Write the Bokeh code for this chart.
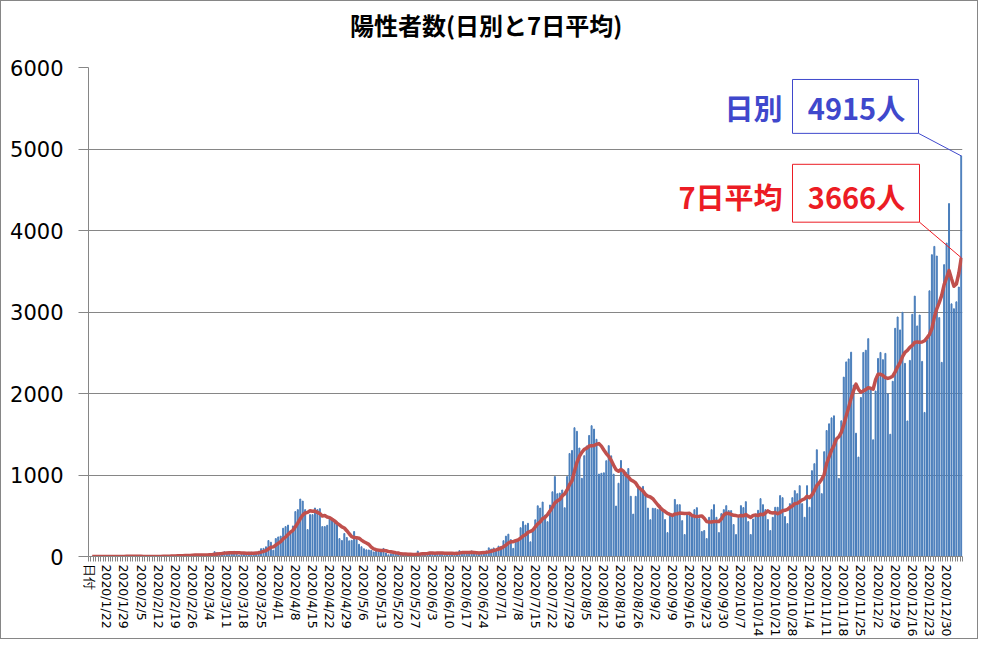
import datetime as dt
import pandas as pd
from bokeh.plotting import figure
from bokeh.layouts import column
from bokeh.models import Range1d, FixedTicker, Label, BoxAnnotation, Arrow, Div, InlineStyleSheet
from bokeh.embed import file_html
from bokeh.resources import INLINE

# ---------------- data ----------------
title_text = "陽性者数(日別と7日平均)"
first_label = "日付"
start_date = dt.date(2020, 1, 16)

jan2020 = [1, 0, 0, 0, 0, 0, 0, 0, 1, 1, 2, 0, 3, 1, 4, 3]  # 1/16 - 1/31
feb2020 = [3, 0, 0, 2, 1, 0, 0, 0, 0, 2, 0, 1, 4, 8, 12, 5, 5, 8, 10, 11,
           11, 14, 23, 12, 14, 22, 25, 21, 14]
mar2020 = [14, 15, 19, 33, 33, 59, 47, 33, 26, 59, 52, 55, 41, 63, 32, 16, 43, 44, 39, 52,
           53, 35, 41, 63, 96, 100, 119, 196, 175, 77, 220]
apr2020 = [240, 250, 347, 367, 385, 282, 375, 551, 575, 705, 680, 575, 330, 514, 514, 595, 575, 587, 367, 367,
           383, 465, 453, 440, 390, 220, 196, 282, 233, 192]
may2020 = [198, 306, 208, 150, 120, 95, 82, 80, 75, 56, 79, 82, 55, 99, 43, 21, 33, 32, 39, 32,
           32, 20, 21, 26, 21, 15, 32, 66, 29, 37, 43]
jun2020 = [35, 51, 40, 45, 48, 44, 47, 14, 38, 38, 41, 43, 48, 72, 53, 38, 39, 41, 68, 39,
           44, 29, 55, 58, 68, 106, 92, 105, 86, 127]
jul2020 = [123, 194, 250, 274, 207, 100, 207, 190, 353, 429, 385, 407, 180, 333, 450, 622, 594, 668, 509, 427,
           632, 794, 981, 770, 779, 816, 598, 981, 1264, 1301, 1580]
aug2020 = [1536, 1331, 959, 1237, 1356, 1485, 1605, 1563, 1438, 1011, 1021, 1027, 1175, 1360, 1235, 1010, 619, 899, 1178, 1029,
           1034, 1079, 739, 520, 738, 850, 836, 860, 781, 594, 451]
sep2020 = [592, 590, 576, 623, 575, 453, 293, 502, 509, 700, 636, 636, 440, 269, 514, 514, 514, 575, 599, 465,
           306, 318, 220, 481, 575, 636, 481, 293, 526, 575]
oct2020 = [624, 563, 563, 392, 269, 481, 624, 600, 673, 428, 269, 459, 518, 567, 710, 636, 575, 453, 318, 481,
           604, 604, 747, 722, 490, 404, 648, 722, 808, 771, 869]
nov2020 = [648, 481, 869, 604, 1053, 1139, 1310, 881, 771, 1286, 1546, 1628, 1701, 1726, 1437, 958, 1665, 2201, 2388, 2424,
           2507, 2103, 1513, 1220, 1951, 2504, 2531, 2673, 2058, 1432]
dec2020 = [2030, 2430, 2504, 2415, 2492, 1996, 1500, 2150, 2800, 2939, 2780, 2996, 2370, 1663, 2406, 2972, 3195, 2829, 2963, 2394,
           1768, 2656, 3260, 3703, 3805, 3687, 2931, 2382, 3581, 3846, 4330]
jan2021 = [3100, 3040, 3125, 3306, 4915]

daily = (jan2020 + feb2020 + mar2020 + apr2020 + may2020 + jun2020 + jul2020 + aug2020
         + sep2020 + oct2020 + nov2020 + dec2020 + jan2021)
n_days = len(daily)
dates = [start_date + dt.timedelta(days=k) for k in range(n_days)]
categories = [first_label] + [f"{d.year}/{d.month}/{d.day}" for d in dates]
x_idx = list(range(1, n_days + 1))
avg7 = pd.Series(daily, dtype=float).rolling(7, min_periods=1).mean().tolist()

y_ticks = [0, 1000, 2000, 3000, 4000, 5000, 6000]
label_step = 7

# ---------------- layout ----------------
W, H = 978, 639
TITLE_H = 52
FL, FT = 88, 67
FW, FH = 874, 490
FR, FB = W - FL - FW, H - FT - FH
XMIN, XMAX = -0.5, len(categories) - 0.5
YMIN, YMAX = 0, 6000


def X(sx):  # page pixel -> data x
    return XMIN + (sx - FL) * (XMAX - XMIN) / FW


def Y(sy):  # page pixel -> data y
    return YMIN + (FT + FH - sy) * (YMAX - YMIN) / FH


GRID = "#868686"
BLUE_BAR = "#4A7EBB"
RED_LINE = "#C0504D"
BLUE_TXT = "#3F48CC"
RED_TXT = "#EC1C24"
JP = "Noto Sans CJK JP"

title_div = Div(
    text=(f'<div style="margin:0;padding:12px 0 0 350px;font-family:\'{JP}\';font-weight:bold;'
          f'font-size:24px;line-height:26px;white-space:nowrap;color:black;">{title_text}</div>'),
    width=W, height=TITLE_H, styles={"background-color": "white", "margin": "0"})

p = figure(width=W, height=H - TITLE_H, output_backend="svg", toolbar_location=None,
           x_range=Range1d(XMIN, XMAX), y_range=Range1d(YMIN, YMAX),
           min_border_left=FL, min_border_right=FR, min_border_top=FT - TITLE_H, min_border_bottom=FB)
p.outline_line_color = None
p.background_fill_color = "white"
p.border_fill_color = "white"

# axes
major = list(range(0, len(categories), label_step))
p.xaxis.ticker = FixedTicker(ticks=major, minor_ticks=[i - 0.5 for i in range(len(categories) + 1)])
p.xaxis.major_label_overrides = {i: categories[i] for i in major}
p.xaxis.major_label_orientation = "vertical"
p.xaxis.major_tick_line_color = None
p.xaxis.major_tick_out = 5
p.xaxis.major_tick_in = 0
p.xaxis.minor_tick_out = 5
p.xaxis.minor_tick_in = 0
p.xaxis.minor_tick_line_color = GRID
p.xaxis.axis_line_color = GRID
p.xaxis.major_label_standoff = 3
p.xaxis.major_label_text_font = "DejaVu Sans"
p.xaxis.major_label_text_font_size = "12.5px"
p.xaxis.major_label_text_color = "black"

p.yaxis.ticker = FixedTicker(ticks=y_ticks)
p.yaxis.axis_line_color = GRID
p.yaxis.major_tick_line_color = GRID
p.yaxis.major_tick_out = 10
p.yaxis.major_tick_in = 0
p.yaxis.minor_tick_line_color = None
p.yaxis.major_label_standoff = 15
p.yaxis.major_label_text_font = "DejaVu Sans"
p.yaxis.major_label_text_font_size = "21px"
p.yaxis.major_label_text_color = "black"

p.xgrid.visible = False
p.ygrid.grid_line_color = GRID
p.ygrid.grid_line_width = 1

# data
p.vbar(x=x_idx, top=daily, width=0.4, color=BLUE_BAR)
p.line(x=x_idx, y=avg7, color=RED_LINE, line_width=3.5, line_join="round")

# annotations
last_x = x_idx[-1]
last_daily = daily[-1]
last_avg = avg7[-1]

p.add_layout(Label(x=X(782), y=Y(107), text="日別", text_align="right", text_baseline="middle",
                   text_font=JP, text_font_style="bold", text_font_size="29px", text_color=BLUE_TXT))
p.add_layout(BoxAnnotation(left=X(792), right=X(918), top=Y(79), bottom=Y(133),
                           fill_color=None, fill_alpha=0, line_color=BLUE_TXT, line_width=1, line_alpha=1))
p.add_layout(Label(x=X(856), y=Y(107), text=f"{last_daily}人", text_align="center", text_baseline="middle",
                   text_font=JP, text_font_style="bold", text_font_size="29px", text_color=BLUE_TXT))
p.add_layout(Arrow(end=None, x_start=X(918), y_start=Y(133), x_end=last_x, y_end=last_daily,
                   line_color=BLUE_TXT, line_width=1))

p.add_layout(Label(x=X(782), y=Y(196), text="7日平均", text_align="right", text_baseline="middle",
                   text_font=JP, text_font_style="bold", text_font_size="29px", text_color=RED_TXT))
p.add_layout(BoxAnnotation(left=X(792), right=X(919), top=Y(164), bottom=Y(222),
                           fill_color=None, fill_alpha=0, line_color=RED_TXT, line_width=1, line_alpha=1))
p.add_layout(Label(x=X(856), y=Y(196), text=f"{round(last_avg)}人", text_align="center", text_baseline="middle",
                   text_font=JP, text_font_style="bold", text_font_size="29px", text_color=RED_TXT))
p.add_layout(Arrow(end=None, x_start=X(919), y_start=Y(222), x_end=last_x, y_end=last_avg,
                   line_color=RED_TXT, line_width=1))

frame_css = InlineStyleSheet(css=(
    ":host { position: relative; }"
    ":host::after { content: ''; position: absolute; left: 0; top: 0; right: 0; bottom: 0;"
    " border: 1px solid #868686; pointer-events: none; z-index: 1000; }"
))
page = column(title_div, p, spacing=0, width=W, height=H, stylesheets=[frame_css],
              styles={"background-color": "white"})

open("out.html", "w").write(file_html(page, INLINE))
